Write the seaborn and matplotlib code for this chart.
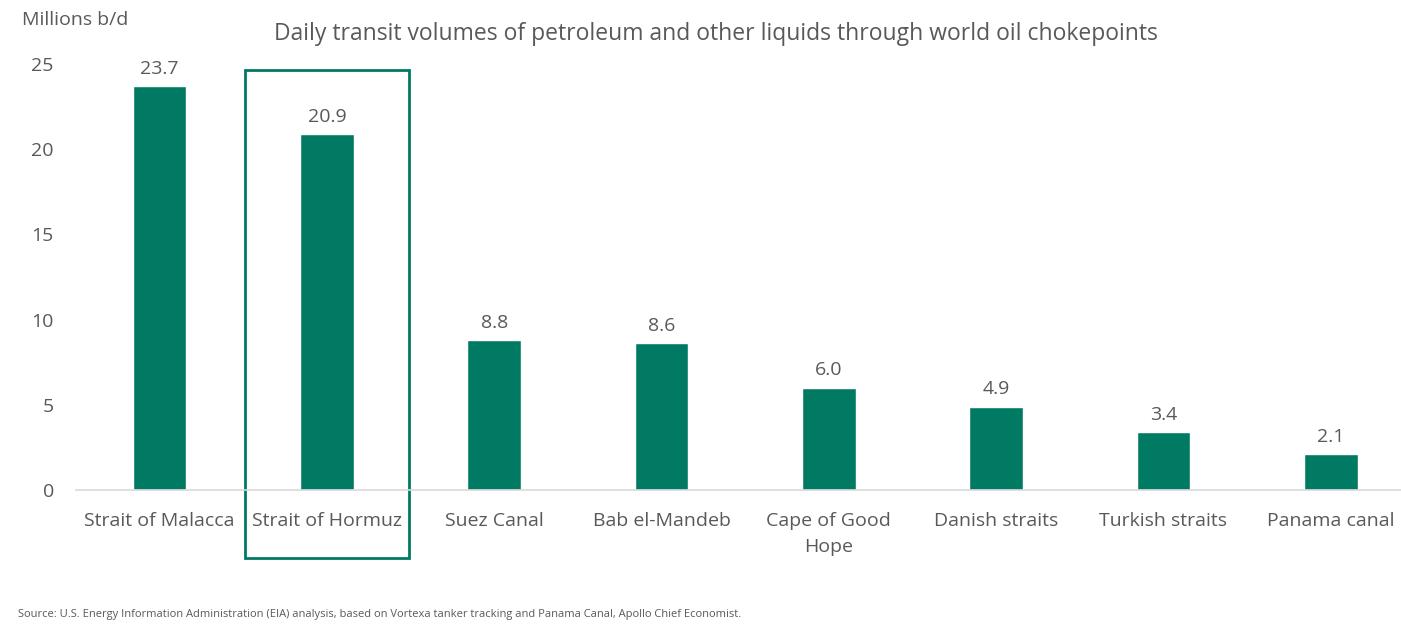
import matplotlib
matplotlib.use("Agg")
import matplotlib.pyplot as plt
import matplotlib.transforms as mtransforms
from matplotlib.patches import Rectangle
import seaborn as sns
import pandas as pd

chokepoints = ["Strait of Malacca", "Strait of Hormuz", "Suez Canal", "Bab el-Mandeb",
               "Cape of Good\nHope", "Danish straits", "Turkish straits", "Panama canal"]
volumes = [23.7, 20.9, 8.8, 8.6, 6.0, 4.9, 3.4, 2.1]
yticks = [0, 5, 10, 15, 20, 25]
highlight = "Strait of Hormuz"

GREEN = "#017A63"
GREY = "#595959"

sns.set_theme(style="white")
plt.rcParams["font.family"] = ["Open Sans", "DejaVu Sans"]

df = pd.DataFrame({"chokepoint": chokepoints, "volume": volumes})

fig = plt.figure(figsize=(14.01, 6.3), dpi=100)
ax = fig.add_axes([76 / 1401, 1 - 490 / 630, 1 - 76 / 1401, 426 / 630])

sns.barplot(data=df, x="chokepoint", y="volume", color=GREEN, saturation=1,
            width=0.32, ax=ax)

for c in ax.containers:
    ax.bar_label(c, labels=[f"{v:.1f}" for v in volumes], padding=6,
                 fontsize=14, color=GREY, clip_on=False)

ax.set_xlim(-0.5, 7.42)
ax.set_ylim(0, 25)
ax.set_yticks(yticks)
ax.set_xlabel("")
ax.set_ylabel("")
ax.tick_params(axis="y", labelsize=14, labelcolor=GREY, length=0, pad=16)
ax.tick_params(axis="x", labelsize=14, labelcolor=GREY, length=0, pad=15.5)
for lbl in ax.get_xticklabels():
    lbl.set_linespacing(1.63)
for s in ["top", "right", "left"]:
    ax.spines[s].set_visible(False)
ax.spines["bottom"].set_color("#D9D9D9")
ax.spines["bottom"].set_linewidth(1.2)
ax.grid(False)

# highlight box around one category
i = chokepoints.index(highlight)
trans = mtransforms.blended_transform_factory(ax.transData, ax.transAxes)
ax.add_patch(Rectangle((i - 0.49, -0.16), 0.98, 0.986 + 0.16, transform=trans,
                       fill=False, edgecolor=GREEN, linewidth=2, clip_on=False))

fig.text(716 / 1401, 1 - 34 / 630, "Daily transit volumes of petroleum and other liquids through world oil chokepoints",
         ha="center", va="center", fontsize=16.5, color=GREY)
fig.text(22 / 1401, 1 - 20 / 630, "Millions b/d", ha="left", va="center", fontsize=14, color=GREY)
fig.text(18 / 1401, 1 - 614 / 630,
         "Source: U.S. Energy Information Administration (EIA) analysis, based on Vortexa tanker tracking and Panama Canal, Apollo Chief Economist.",
         ha="left", va="center", fontsize=8, color=GREY)

fig.savefig("out.png", dpi=100)
